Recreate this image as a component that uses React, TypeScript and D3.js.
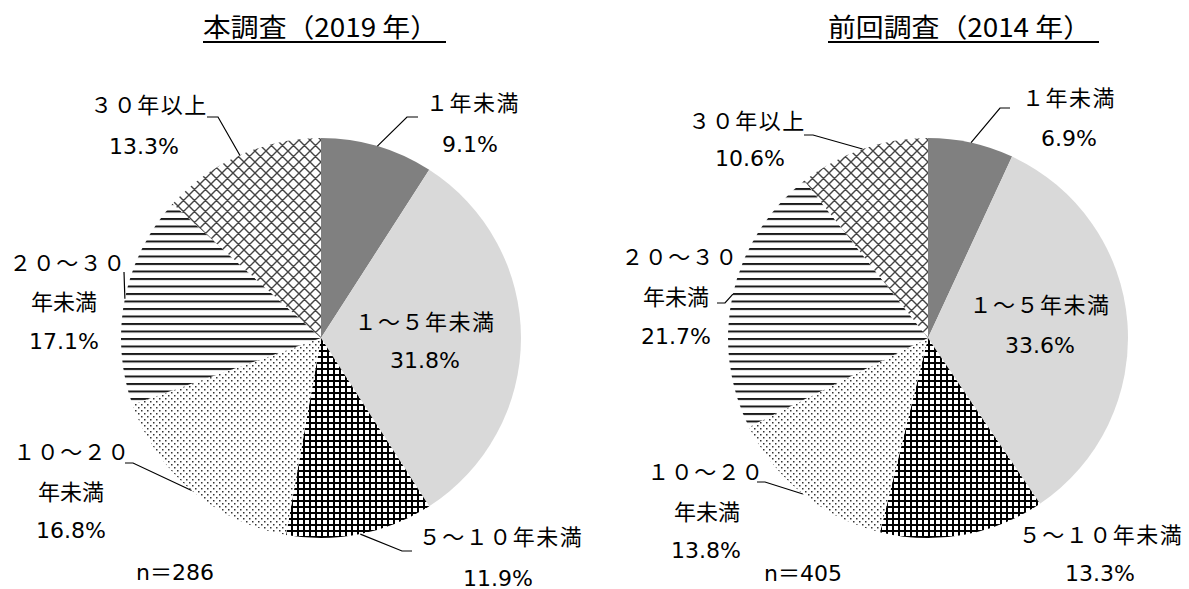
import React from "react";
import * as d3 from "d3";

const categories = ["１年未満", "１～５年未満", "５～１０年未満", "１０～２０年未満", "２０～３０年未満", "３０年以上"];
const values2019 = [9.1, 31.8, 11.9, 16.8, 17.1, 13.3];
const values2014 = [6.9, 33.6, 13.3, 13.8, 21.7, 10.6];
const titles = ["本調査（2019 年）", "前回調査（2014 年）"];
const sampleSizes = ["n＝286", "n＝405"];
const labelLines2019 = [["１年未満", "9.1%"], ["１～５年未満", "31.8%"], ["５～１０年未満", "11.9%"], ["１０～２０", "年未満", "16.8%"], ["２０～３０", "年未満", "17.1%"], ["３０年以上", "13.3%"]];
const labelLines2014 = [["１年未満", "6.9%"], ["１～５年未満", "33.6%"], ["５～１０年未満", "13.3%"], ["１０～２０", "年未満", "13.8%"], ["２０～３０", "年未満", "21.7%"], ["３０年以上", "10.6%"]];

const fills = ["#808080", "#d9d9d9", "url(#pGrid)", "url(#pDots)", "url(#pHLines)", "url(#pCross)"];
const FONT = "'DejaVu Sans', 'Noto Sans CJK JP', sans-serif";

type Layout = {
  cx: number; cy: number; r: number;
  title: { x: number; w: number };
  n: { x: number; y: number };
  labels: { x: number[]; y: number[] }[];
  leaders: ([number, number][] | null)[];
};

const layouts: Layout[] = [
  {
    cx: 321, cy: 338, r: 200,
    title: { x: 203, w: 243 },
    n: { x: 175, y: 572 },
    labels: [
      { x: [473, 470], y: [103, 144] },
      { x: [425, 425], y: [322, 360] },
      { x: [501, 498], y: [537, 578] },
      { x: [72, 71, 71], y: [452, 492, 530] },
      { x: [68, 64, 64], y: [263, 302, 341] },
      { x: [149, 144], y: [105, 146] },
    ],
    leaders: [
      [[418, 117], [407, 117]],
      null,
      [[412, 551], [402, 551]],
      [[125, 463], [133, 463]],
      [[124, 272]],
      [[207, 117], [218, 117]],
    ],
  },
  {
    cx: 928, cy: 338, r: 200,
    title: { x: 828, w: 271 },
    n: { x: 803, y: 573 },
    labels: [
      { x: [1069, 1069], y: [98, 138] },
      { x: [1040, 1040], y: [305, 345] },
      { x: [1101, 1100], y: [535, 573] },
      { x: [706, 707, 706], y: [472, 512, 550] },
      { x: [680, 676, 676], y: [257, 297, 336] },
      { x: [747, 750], y: [121, 158] },
    ],
    leaders: [
      [[1010, 108], [1000, 108]],
      null,
      null,
      [[757, 482], [765, 482]],
      [[717, 303], [725, 303]],
      [[804, 135], [813, 135]],
    ],
  },
];

function PieChart({ values, lines, title, n, layout }: { values: number[]; lines: string[][]; title: string; n: string; layout: Layout }) {
  const pie = d3.pie<number>().sort(null).value((d) => d).startAngle(0).endAngle(2 * Math.PI);
  const arcs = pie(values);
  const arc = d3.arc<d3.PieArcDatum<number>>().innerRadius(0).outerRadius(layout.r);
  const { cx, cy, r } = layout;
  return (
    <g>
      <text x={layout.title.x} y={37} fontFamily="'Noto Sans CJK JP', sans-serif" fontSize={26} textLength={layout.title.w - 8} lengthAdjust="spacingAndGlyphs" fill="#000">{title}</text>
      <rect x={layout.title.x} y={41} width={layout.title.w} height={2} fill="#000" />
      <g transform={`translate(${cx},${cy})`}>
        {arcs.map((a, i) => (
          <path key={i} d={arc(a) || ""} fill={fills[i]} />
        ))}
      </g>
      {arcs.map((a, i) => {
        const pts = layout.leaders[i];
        if (!pts) return null;
        const mid = (a.startAngle + a.endAngle) / 2;
        const ex = cx + r * Math.sin(mid);
        const ey = cy - r * Math.cos(mid);
        const all = [...pts, [ex, ey] as [number, number]];
        return <path key={"l" + i} d={d3.line()(all) || ""} fill="none" stroke="#000" strokeWidth={1.2} />;
      })}
      {lines.map((ls, i) => (
        <g key={"t" + i}>
          {ls.map((s, j) => (
            <text key={j} x={layout.labels[i].x[j]} y={layout.labels[i].y[j]} textAnchor="middle" dominantBaseline="central" fontFamily={FONT} fontSize={22} letterSpacing={/[０-９～]/.test(s) ? 1.5 : 0} fill="#000">{s}</text>
          ))}
        </g>
      ))}
      <text x={layout.n.x} y={layout.n.y} textAnchor="middle" dominantBaseline="central" fontFamily={FONT} fontSize={22} fill="#000">{n}</text>
    </g>
  );
}

export default function App() {
  return (
    <svg width={1189} height={589} style={{ position: "absolute", left: 0, top: 0, background: "#fff" }}>
      <defs>
        <pattern id="pGrid" width={6} height={6} patternUnits="userSpaceOnUse">
          <rect width={6} height={6} fill="#fff" />
          <rect width={6} height={2} fill="#000" />
          <rect width={2} height={6} fill="#000" />
        </pattern>
        <pattern id="pDots" width={6} height={6} patternUnits="userSpaceOnUse">
          <rect width={6} height={6} fill="#fff" />
          <rect x={0} y={0} width={1.5} height={1.5} fill="#333" />
          <rect x={3} y={3} width={1.5} height={1.5} fill="#333" />
        </pattern>
        <pattern id="pHLines" width={8} height={7.5} patternUnits="userSpaceOnUse">
          <rect width={8} height={7.5} fill="#fff" />
          <rect width={8} height={2} fill="#1a1a1a" />
        </pattern>
        <pattern id="pCross" width={11} height={11} patternUnits="userSpaceOnUse">
          <rect width={11} height={11} fill="#fff" />
          <path d="M-1,1 L1,-1 M0,11 L11,0 M10,12 L12,10 M-1,10 L1,12 M0,0 L11,11 M10,-1 L12,1" stroke="#444" strokeWidth={1.4} />
        </pattern>
      </defs>
      {layouts.map((lay, k) => (
        <PieChart key={k} values={k === 0 ? values2019 : values2014} lines={k === 0 ? labelLines2019 : labelLines2014} title={titles[k]} n={sampleSizes[k]} layout={lay} />
      ))}
    </svg>
  );
}
